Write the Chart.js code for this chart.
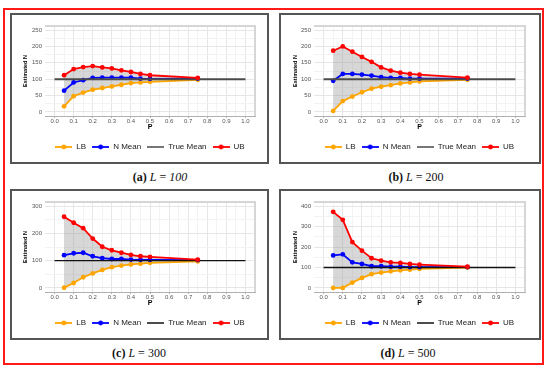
<!DOCTYPE html>
<html><head><meta charset="utf-8">
<script src="https://cdn.jsdelivr.net/npm/chart.js@4/dist/chart.umd.min.js"></script>
<style>
html,body{margin:0;padding:0;background:#fff;width:550px;height:368px;overflow:hidden;position:relative}
.frame{position:absolute;border:2px solid #ff1a1a;box-sizing:border-box}
.panel{position:absolute;border:2px solid #555;box-sizing:border-box}
canvas{position:absolute}
.cap{position:absolute;width:200px;text-align:center;font-family:"Liberation Serif","DejaVu Serif",serif;font-size:12px;line-height:14px;color:#111;white-space:nowrap}
.cap b{font-weight:bold}
.cap i{font-style:italic}
</style></head>
<body>
<div class="frame" style="left:3px;top:8px;width:541px;height:357px"></div>
<div class="panel" style="left:10px;top:13px;width:259px;height:151px"></div>
<div class="panel" style="left:279px;top:13px;width:262px;height:151px"></div>
<div class="panel" style="left:10px;top:189px;width:259px;height:151px"></div>
<div class="panel" style="left:279px;top:189px;width:262px;height:151px"></div>
<canvas id="ca" width="255" height="147" style="left:12px;top:15px"></canvas>
<canvas id="cb" width="258" height="147" style="left:281px;top:15px"></canvas>
<canvas id="cc" width="255" height="147" style="left:12px;top:191px"></canvas>
<canvas id="cd" width="258" height="147" style="left:281px;top:191px"></canvas>
<div class="cap" style="left:60px;top:170px"><b>(a)</b> <i>L</i> = <i>100</i></div>
<div class="cap" style="left:316px;top:170px"><b>(b)</b> <i>L</i> = 200</div>
<div class="cap" style="left:39px;top:346px"><b>(c)</b> <i>L</i> = 300</div>
<div class="cap" style="left:308px;top:346px"><b>(d)</b> <i>L</i> = 500</div>
<script>
// ---- data ----
const P = [0.05, 0.1, 0.15, 0.2, 0.25, 0.3, 0.35, 0.4, 0.45, 0.5, 0.75];
const trueMean = 100;
const trueMeanX = [0, 1];
const seriesNames = ['LB', 'N Mean', 'True Mean', 'UB'];

const lbA   = [17, 48, 59, 68, 73, 78, 83, 88, 90, 92, 98];
const meanA = [65, 90, 97, 104, 105, 105, 105, 105, 102, 101, 102];
const ubA   = [112, 131, 137, 140, 136, 133, 127, 122, 116, 112, 104];

const lbB   = [3, 33, 47, 60, 71, 77, 82, 87, 90, 93, 98];
const meanB = [95, 116, 116, 114, 111, 106, 104, 104, 102, 102, 102];
const ubB   = [187, 200, 184, 168, 153, 136, 126, 120, 116, 114, 105];

const lbC   = [1, 18, 39, 53, 66, 76, 82, 86, 89, 92, 97];
const meanC = [120, 127, 129, 116, 109, 106, 106, 104, 103, 103, 102];
const ubC   = [261, 239, 219, 181, 151, 138, 129, 121, 116, 114, 104];

const lbD   = [0, 0, 26, 49, 67, 75, 81, 86, 89, 93, 99];
const meanD = [159, 164, 125, 117, 106, 106, 104, 104, 102, 102, 102];
const ubD   = [372, 333, 224, 182, 145, 133, 125, 122, 117, 114, 104];

const xTickValues = [0, 0.1, 0.2, 0.3, 0.4, 0.5, 0.6, 0.7, 0.8, 0.9, 1.0];
const xTickLabels = ['0.0', '0.1', '0.2', '0.3', '0.4', '0.5', '0.6', '0.7', '0.8', '0.9', '1.0'];
const xMinorValues = [0.05, 0.15, 0.25, 0.35, 0.45, 0.55, 0.65, 0.75, 0.85, 0.95];
const yTicksAB = [0, 50, 100, 150, 200, 250];
const yMinorAB = [25, 75, 125, 175, 225];
const yTicksC = [0, 100, 200, 300];
const yMinorC = [50, 150, 250];
const yTicksD = [0, 100, 200, 300, 400];
const yMinorD = [50, 150, 250, 350];

// ---- style ----
const ORANGE = '#FFA500', BLUE = '#0000FF', RED = '#FF0000';
Chart.defaults.font.family = '"Liberation Sans", Arial, sans-serif';

function icon(color, dot, w) {
  const c = document.createElement('canvas'); c.width = 17; c.height = 6;
  const g = c.getContext('2d');
  g.strokeStyle = color; g.lineWidth = w; g.beginPath(); g.moveTo(0, 3); g.lineTo(17, 3); g.stroke();
  if (dot) { g.fillStyle = color; g.beginPath(); g.arc(8.5, 3, 2.4, 0, Math.PI * 2); g.fill(); }
  return c;
}

const panelBorder = {
  id: 'panelBorder',
  beforeDatasetsDraw(chart) {
    const {ctx, chartArea: a} = chart;
    ctx.save(); ctx.strokeStyle = '#d6d6d6'; ctx.lineWidth = 2;
    ctx.beginPath(); ctx.moveTo(a.left, a.top); ctx.lineTo(a.right, a.top); ctx.lineTo(a.right, a.bottom); ctx.stroke();
    ctx.restore();
  }
};

const near = (arr, v) => arr.findIndex(t => Math.abs(t - v) < 1e-9);

function makeChart(id, lb, mean, ub, yMin, yMax, yTicks, yMinor, tmColor, tmWidth, padRight, titlePad) {
  const pts = arr => P.map((p, i) => ({x: p, y: arr[i]}));
  const icons = [icon(ORANGE, true, 1.8), icon(BLUE, true, 1.8), icon(tmColor, false, 1.5), icon(RED, true, 1.8)];
  const xAll = xTickValues.concat(xMinorValues).sort((a, b) => a - b);
  const yAll = yTicks.concat(yMinor).sort((a, b) => a - b);
  return new Chart(document.getElementById(id), {
    type: 'line',
    data: {datasets: [
      {label: seriesNames[0], data: pts(lb), borderColor: ORANGE, backgroundColor: ORANGE, pointBackgroundColor: ORANGE, pointBorderColor: ORANGE, pointRadius: 2.4, pointBorderWidth: 0, borderWidth: 1.8, fill: false, order: 3},
      {label: seriesNames[1], data: pts(mean), borderColor: BLUE, backgroundColor: BLUE, pointBackgroundColor: BLUE, pointBorderColor: BLUE, pointRadius: 2.4, pointBorderWidth: 0, borderWidth: 1.8, fill: false, order: 2},
      {label: seriesNames[2], data: trueMeanX.map(x => ({x: x, y: trueMean})), borderColor: tmColor, borderWidth: tmWidth, pointRadius: 0, fill: false, order: 1},
      {label: seriesNames[3], data: pts(ub), borderColor: RED, backgroundColor: 'rgba(150,150,150,0.38)', pointBackgroundColor: RED, pointBorderColor: RED, pointRadius: 2.4, pointBorderWidth: 0, borderWidth: 1.8, fill: {target: 0}, order: 0}
    ]},
    options: {
      responsive: false, animation: false, devicePixelRatio: 1,
      layout: {padding: {top: 11, right: padRight, left: 0, bottom: 1}},
      plugins: {
        filler: {drawTime: 'beforeDatasetsDraw'},
        tooltip: {enabled: false},
        legend: {
          position: 'bottom', fullSize: false,
          labels: {
            usePointStyle: true, pointStyleWidth: 17, padding: 6, color: '#222', font: {size: 8},
            generateLabels: () => seriesNames.map((n, i) => ({text: n, pointStyle: icons[i], datasetIndex: i, hidden: false, lineWidth: 0, strokeStyle: 'rgba(0,0,0,0)', fillStyle: 'rgba(0,0,0,0)', fontColor: '#222'}))
          }
        }
      },
      scales: {
        x: {
          type: 'linear', min: -0.05, max: 1.05,
          afterBuildTicks: s => { s.ticks = xAll.map(v => ({value: v})); },
          afterFit: s => { s.height = 21; },
          ticks: {autoSkip: false, maxRotation: 0, color: '#555', font: {size: 6, lineHeight: 1}, padding: 0,
            callback: v => { const k = near(xTickValues, v); return k >= 0 ? xTickLabels[k] : ''; }},
          grid: {
            color: c => (c.tick && near(xTickValues, c.tick.value) >= 0) ? '#e6e6e6' : '#f3f3f3',
            tickLength: 2,
            tickColor: c => (c.tick && near(xTickValues, c.tick.value) >= 0) ? '#b0b0b0' : 'rgba(0,0,0,0)'
          },
          border: {display: true, color: '#b0b0b0', width: 1},
          title: {display: true, text: 'P', color: '#000', font: {size: 7, weight: 'bold'}, padding: {top: 0, bottom: 6}}
        },
        y: {
          min: yMin, max: yMax,
          afterBuildTicks: s => { s.ticks = yAll.map(v => ({value: v})); },
          afterFit: s => { s.width = 33; },
          ticks: {autoSkip: false, color: '#555', font: {size: 6}, padding: 3,
            callback: v => yTicks.includes(v) ? String(v) : ''},
          grid: {drawTicks: false, color: c => (c.tick && yTicks.includes(c.tick.value)) ? '#e6e6e6' : '#f3f3f3'},
          border: {display: false},
          title: {display: true, text: 'Estimated N', color: '#000', font: {size: 5.5, weight: 'bold'}, padding: {top: titlePad, bottom: 0}}
        }
      }
    },
    plugins: [panelBorder]
  });
}

makeChart('ca', lbA, meanA, ubA, -12.5, 262.5, yTicksAB, yMinorAB, '#4a4a4a', 2, 12, 10);
makeChart('cb', lbB, meanB, ubB, -12.5, 262.5, yTicksAB, yMinorAB, '#4a4a4a', 2, 14, 11);
makeChart('cc', lbC, meanC, ubC, -15, 315, yTicksC, yMinorC, '#111', 1.4, 12, 10);
makeChart('cd', lbD, meanD, ubD, -20, 420, yTicksD, yMinorD, '#111', 1.4, 14, 11);
</script>
</body></html>
